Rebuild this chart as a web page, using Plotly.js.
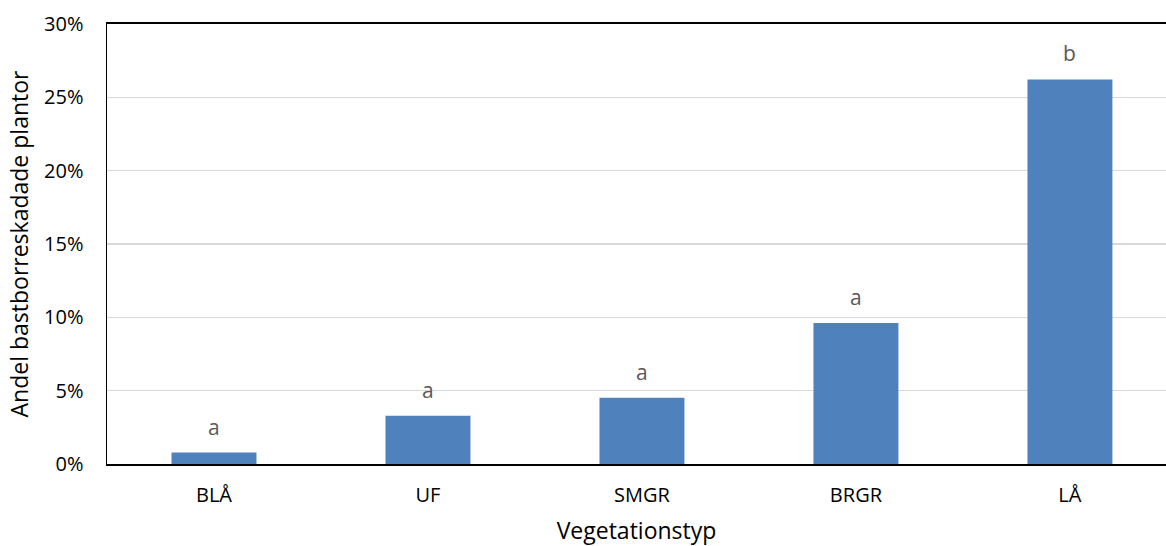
<!DOCTYPE html>
<html>
<head>
<meta charset="utf-8">
<script src="https://cdn.plot.ly/plotly-3.0.1.min.js"></script>
<style>html,body{margin:0;padding:0;overflow:hidden;background:#fff;}#chart{width:1166px;height:546px;}</style>
</head>
<body>
<div id="chart"></div>
<script>
const categories = ["BLÅ", "UF", "SMGR", "BRGR", "LÅ"];
const shareDamaged = [0.0078, 0.0329, 0.0452, 0.0961, 0.2622];
const groupLetters = ["a", "a", "a", "a", "b"];
const yTickVals = [0, 0.05, 0.10, 0.15, 0.20, 0.25, 0.30];
const yTickText = ["0%", "5%", "10%", "15%", "20%", "25%", "30%"];

const FONT = "'Open Sans', Carlito, Calibri, sans-serif";

const trace = {
  type: "bar",
  x: categories,
  y: shareDamaged,
  width: 0.397,
  marker: { color: "#4f81bd", line: { width: 0 } },
  hoverinfo: "x+y"
};

const annotations = categories.map((c, i) => ({
  x: c, y: shareDamaged[i], xref: "x", yref: "y",
  text: groupLetters[i], showarrow: false,
  yanchor: "middle", yshift: 26,
  font: { family: FONT, size: 21, color: "#595959" }
}));

const layout = {
  width: 1166, height: 546,
  margin: { l: 107, r: 0, t: 24, b: 82 },
  paper_bgcolor: "#ffffff", plot_bgcolor: "#ffffff",
  showlegend: false,
  bargap: 0.6,
  xaxis: {
    type: "category",
    range: [-0.5, 4.449],
    showline: true, mirror: true, linecolor: "#000000", linewidth: 2,
    showgrid: false, zeroline: false,
    ticks: "", ticklabelstandoff: 12,
    tickfont: { family: FONT, size: 20, color: "#000000" },
    title: { text: "Vegetationstyp", standoff: 24, font: { family: FONT, size: 23, color: "#000000" } }
  },
  yaxis: {
    range: [0, 0.30],
    tickvals: yTickVals, ticktext: yTickText,
    showline: true, linecolor: "#000000", linewidth: 1.5,
    showgrid: true, gridcolor: "#d9d9d9", gridwidth: 1.5,
    zeroline: false, ticks: "", ticklabelstandoff: 18,
    tickfont: { family: FONT, size: 20, color: "#000000" },
    title: { text: "Andel bastborreskadade plantor", standoff: 9, font: { family: FONT, size: 23, color: "#000000" } }
  },
  annotations: annotations
};

Plotly.newPlot("chart", [trace], layout, { displayModeBar: false, staticPlot: true });
</script>
</body>
</html>
